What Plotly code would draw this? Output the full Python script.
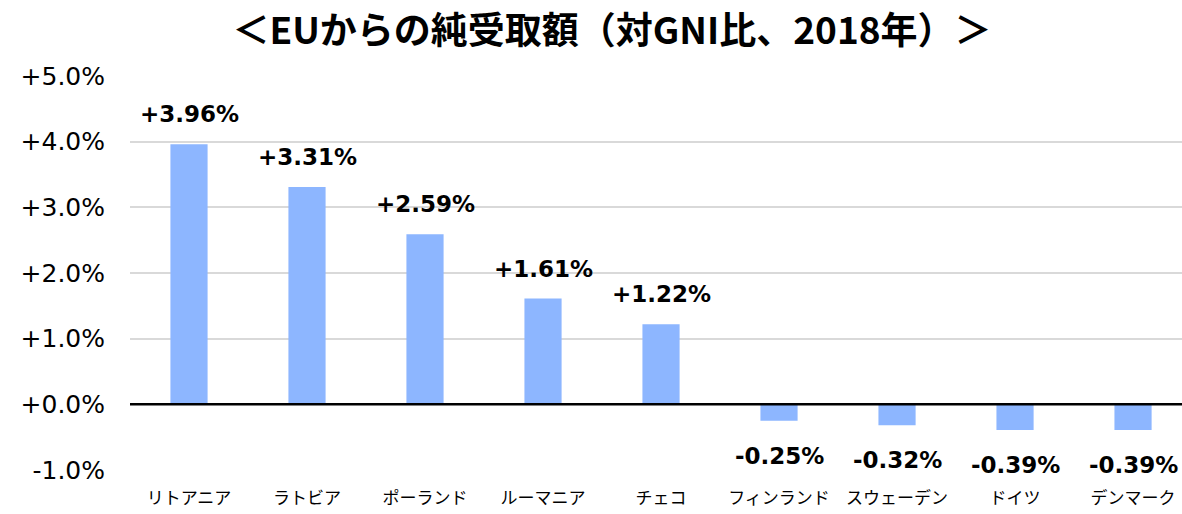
import plotly.graph_objects as go

categories = ["リトアニア", "ラトビア", "ポーランド", "ルーマニア", "チェコ",
              "フィンランド", "スウェーデン", "ドイツ", "デンマーク"]
values = [3.96, 3.31, 2.59, 1.61, 1.22, -0.25, -0.32, -0.39, -0.39]
tick_vals = [-1, 0, 1, 2, 3, 4, 5]
tick_text = ["-1.0%", "+0.0%", "+1.0%", "+2.0%", "+3.0%", "+4.0%", "+5.0%"]
title_text = "＜EUからの純受取額（対GNI比、2018年）＞"

fig = go.Figure()
fig.add_trace(go.Bar(
    x=categories, y=values, marker_color="#8DB6FF", width=0.315,
    marker_line_width=0, hoverinfo="skip",
))

for c, v in zip(categories, values):
    fig.add_annotation(
        x=c, y=v, text=("%+.2f%%" % v), showarrow=False,
        yshift=30 if v >= 0 else -35,
        font=dict(family="DejaVu Sans", size=23, color="#000000", weight="bold"),
    )

fig.add_shape(type="line", xref="paper", x0=0, x1=1, yref="y", y0=0, y1=0,
              line=dict(color="#000000", width=2.5))

fig.update_layout(
    width=1182, height=514,
    margin=dict(l=130, r=0, t=76, b=44, autoexpand=False),
    plot_bgcolor="white", paper_bgcolor="white",
    showlegend=False,
    title=dict(text="<b>" + title_text + "</b>", x=612 / 1182, xref="container",
               xanchor="center", y=1 - 31 / 514, yanchor="middle",
               font=dict(family="Noto Sans CJK JP", size=37, color="#000000")),
    xaxis=dict(
        range=[-0.5, 8.415],
        tickfont=dict(family="Noto Sans CJK JP", size=17, color="#000000"),
        showgrid=False, showline=False, zeroline=False,
        ticks="", ticklabelstandoff=16,
    ),
    yaxis=dict(
        range=[-1, 5], tickvals=tick_vals, ticktext=tick_text,
        tickfont=dict(family="DejaVu Sans", size=25, color="#000000"),
        showgrid=True, gridcolor="#D9D9D9", gridwidth=1.5,
        zeroline=False, showline=False, ticks="", ticklabelstandoff=24,
    ),
)

fig.write_html("out.html", config={"displayModeBar": False},
               post_script="document.body.style.margin='0';")
